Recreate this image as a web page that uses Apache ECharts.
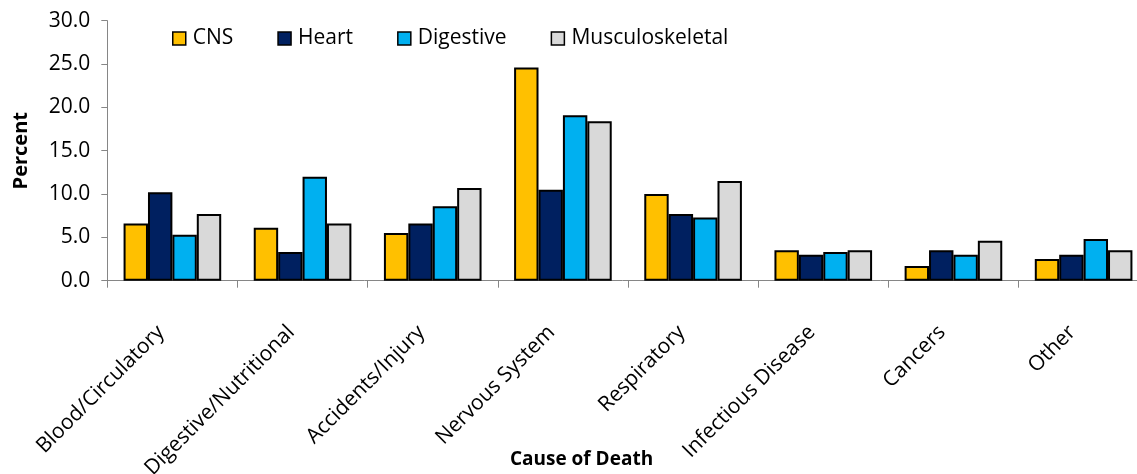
<!DOCTYPE html>
<html>
<head>
<meta charset="utf-8">
<script src="https://cdn.jsdelivr.net/npm/echarts@6/dist/echarts.min.js"></script>
<style>
html,body{margin:0;padding:0;background:#fff;}
#chart{width:1137px;height:474px;}
</style>
</head>
<body>
<div id="chart"></div>
<script>
const categories = ['Blood/Circulatory','Digestive/Nutritional','Accidents/Injury','Nervous System','Respiratory','Infectious Disease','Cancers','Other'];
const seriesNames = ['CNS','Heart','Digestive','Musculoskeletal'];
const cnsValues = [6.6, 6.1, 5.5, 24.6, 10.0, 3.5, 1.7, 2.5];
const heartValues = [10.2, 3.3, 6.6, 10.5, 7.7, 3.0, 3.5, 3.0];
const digestiveValues = [5.3, 12.0, 8.6, 19.1, 7.3, 3.3, 3.0, 4.8];
const muscValues = [7.7, 6.6, 10.7, 18.4, 11.5, 3.5, 4.6, 3.5];
const colors = ['#FFC000','#002060','#00B0F0','#D9D9D9'];
const yMin = 0, yMax = 30, yInterval = 5;

const FONT = '"Open Sans", sans-serif';
const chart = echarts.init(document.getElementById('chart'), null, {renderer:'canvas'});
const allValues = [cnsValues, heartValues, digestiveValues, muscValues];
chart.setOption({
  animation:false,
  backgroundColor:'#ffffff',
  textStyle:{fontFamily:FONT},
  legend:{
    left:172, top:28, padding:0,
    itemWidth:13, itemHeight:13, itemGap:44,
    icon:'rect',
    itemStyle:{borderColor:'#000', borderWidth:1.5},
    textStyle:{fontFamily:FONT, fontSize:21, color:'#000', padding:[0,0,0,2]},
    data:seriesNames
  },
  grid:{left:107.3, right:-11.7, top:20.7, bottom:193.3, containLabel:false, outerBoundsMode:'none'},
  xAxis:{
    type:'category',
    data:categories,
    name:'Cause of Death',
    nameLocation:'middle',
    nameGap:169,
    nameMoveOverlap:false,
    nameTextStyle:{fontFamily:FONT, fontSize:19, fontWeight:'bold', color:'#000', padding:[0,93,0,0]},
    axisLine:{show:true, lineStyle:{color:'#868686', width:1}},
    axisTick:{show:true, length:7, lineStyle:{color:'#868686'}},
    axisLabel:{rotate:45, margin:37, padding:[0,16,0,0], fontFamily:FONT, fontSize:21, color:'#000', interval:0},
    splitLine:{show:false}
  },
  yAxis:{
    type:'value',
    min:yMin, max:yMax, interval:yInterval,
    name:'Percent',
    nameLocation:'middle',
    nameRotate:90,
    nameGap:76,
    nameMoveOverlap:false,
    nameTextStyle:{fontFamily:FONT, fontSize:20, fontWeight:'bold', color:'#000'},
    axisLine:{show:true, lineStyle:{color:'#868686', width:1}},
    axisTick:{show:true, length:6, lineStyle:{color:'#868686'}},
    axisLabel:{margin:17, fontFamily:FONT, fontSize:21, color:'#000', formatter:v=>v.toFixed(1)},
    splitLine:{show:false}
  },
  series: seriesNames.map((n,i)=>({
    name:n, type:'bar',
    data:allValues[i],
    barGap:'0%', barCategoryGap:'25%',
    itemStyle:{color:colors[i], borderColor:'#000', borderWidth:2}
  }))
});
</script>
</body>
</html>
